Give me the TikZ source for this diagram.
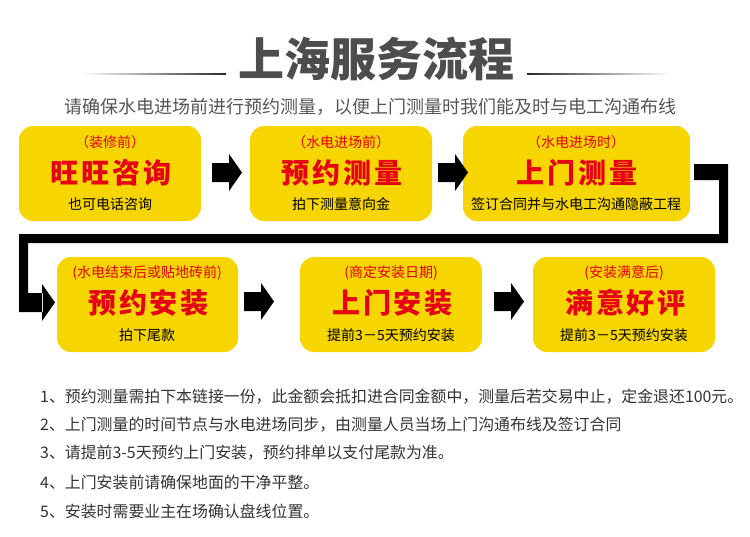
\documentclass[tikz,border=0pt]{standalone}
\usepackage{fontspec}
\setmainfont{Noto Sans CJK SC}
\definecolor{ylw}{RGB}{247,214,0}
\definecolor{redt}{RGB}{230,0,18}
\definecolor{tgray}{RGB}{77,77,77}
\definecolor{sgray}{RGB}{85,85,85}
\definecolor{ngray}{RGB}{51,51,51}
\definecolor{lgray}{RGB}{40,40,40}
\begin{document}
\begin{tikzpicture}[x=1pt,y=-1pt,
  box/.style={fill=ylw, rounded corners=14pt, minimum height=95pt, inner sep=0pt},
  subt/.style={text=redt, font=\fontsize{14}{16}\selectfont, inner sep=0pt},
  maint/.style={text=redt, font=\fontsize{28}{30}\selectfont\bfseries\addfontfeature{LetterSpace=10}, inner sep=0pt},
  bott/.style={text=black, font=\fontsize{14}{16}\selectfont, inner sep=0pt},
  notet/.style={text=ngray, font=\fontsize{15.9}{18}\selectfont, inner sep=0pt, anchor=west},
  barrow/.pic={\fill[black] (0,-9.5) -- (17,-9.5) -- (17,-18.5) -- (30,0) -- (17,18.5) -- (17,9.5) -- (0,9.5) -- cycle;}
]
\useasboundingbox (0,0) rectangle (750,536);

% title
\node[font=\fontsize{46}{50}\selectfont\bfseries, text=tgray, inner sep=0pt] (title) at (376,59) {上海服务流程};
\shade[left color=white, right color=lgray] (82,73.4) rectangle (226,74.6);
\shade[left color=lgray, right color=white] (527,73.4) rectangle (671,74.6);
\node[font=\fontsize{18}{20}\selectfont, text=sgray, inner sep=0pt] (subtitle) at (370,107) {请确保水电进场前进行预约测量，以便上门测量时我们能及时与电工沟通布线};

% row 1 boxes
\node[box, minimum width=182pt] (b1) at (110,173.5) {};
\node[box, minimum width=182pt] (b2) at (341,173.5) {};
\node[box, minimum width=227pt] (b3) at (576.5,173.5) {};
% row 2 boxes
\node[box, minimum width=181pt] (b4) at (147.5,304.5) {};
\node[box, minimum width=182pt] (b5) at (391,304.5) {};
\node[box, minimum width=182pt] (b6) at (624,304.5) {};

% box texts
\node[subt] (b1s) at (110,142) {（装修前）};
\node[maint] (b1m) at (111,173) {旺旺咨询};
\node[bott] (b1b) at (110,204) {也可电话咨询};

\node[subt] (b2s) at (341,142) {（水电进场前）};
\node[maint] (b2m) at (342,173) {预约测量};
\node[bott] (b2b) at (341,204) {拍下测量意向金};

\node[subt] (b3s) at (576,142) {（水电进场时）};
\node[maint] (b3m) at (577,173) {上门测量};
\node[bott] (b3b) at (576,204) {签订合同并与水电工沟通隐蔽工程};

\node[subt] (b4s) at (147,273) {(水电结束后或贴地砖前)};
\node[maint] (b4m) at (148.5,303) {预约安装};
\node[bott] (b4b) at (147,335) {拍下尾款};

\node[subt] (b5s) at (391,273) {(商定安装日期)};
\node[maint] (b5m) at (392.5,303) {上门安装};
\node[bott] (b5b) at (391,335) {提前3－5天预约安装};

\node[subt] (b6s) at (624,273) {(安装满意后)};
\node[maint] (b6m) at (625.5,303) {满意好评};
\node[bott] (b6b) at (624,335) {提前3－5天预约安装};

% block arrows
\pic at (212,172.5) {barrow};
\pic at (438,172.5) {barrow};
\pic at (244,301.5) {barrow};
\pic at (494,301.5) {barrow};

% connector from b3 to b4
\fill[black] (694,164) rectangle (728,180)
  (719,164) rectangle (728,243)
  (19,234) rectangle (728,243)
  (19,234) rectangle (28,312)
  (19,293) rectangle (43,312)
  (42,284) -- (55,302.5) -- (42,321) -- cycle;

% notes
\node[notet] (n1) at (40,397) {1、预约测量需拍下本链接一份，此金额会抵扣进合同金额中，测量后若交易中止，定金退还100元。};
\node[notet] (n2) at (40,425) {2、上门测量的时间节点与水电进场同步，由测量人员当场上门沟通布线及签订合同};
\node[notet] (n3) at (40,453) {3、请提前3-5天预约上门安装，预约排单以支付尾款为准。};
\node[notet] (n4) at (40,482) {4、上门安装前请确保地面的干净平整。};
\node[notet] (n5) at (40,511) {5、安装时需要业主在场确认盘线位置。};
\end{tikzpicture}
\end{document}
